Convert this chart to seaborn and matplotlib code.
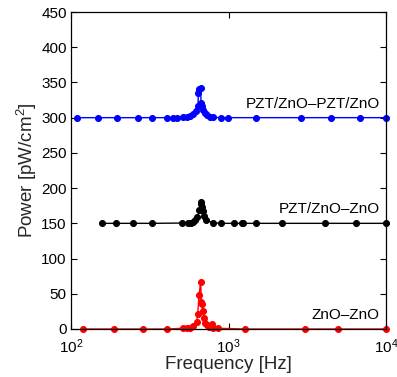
import matplotlib
matplotlib.use("Agg")
import matplotlib.pyplot as plt
import seaborn as sns
import pandas as pd
from matplotlib.ticker import LogLocator, LogFormatterSciNotation, NullLocator

# ---- data ----
freq_pzt_pzt = [108.7, 147.7, 196.8, 267.5, 325.4, 405.3, 442.2, 473.0, 512.0, 542.8,
                569.6, 597.7, 621.8, 640.2, 643.2, 652.6, 666.1, 669.0, 675.9, 691.8,
                709.3, 727.2, 762.9, 800.6, 892.2, 997.0, 1488, 2873, 4457, 6839, 10000]
power_pzt_pzt = [300, 300, 300, 300, 300, 300, 300, 300, 300.5, 301,
                 302, 305, 310, 316, 335, 340, 342, 321, 316, 311,
                 306, 304, 301.5, 300.5, 300, 300, 300, 300, 300, 300, 300]

freq_pzt_zno = [156.6, 193.1, 246.5, 325.4, 504.6, 555.6, 575.4, 597.7, 612.8, 633.8,
                652.6, 666.1, 672.0, 678.9, 686.0, 699.2, 719.9, 793.6, 892.2, 1088,
                1213, 1242, 1495, 2177, 4100, 6450, 10000]
power_pzt_zno = [150, 150, 150, 150, 150.4, 150.5, 151, 152, 154.5, 159,
                 168.5, 178, 180, 173, 167, 161, 154.5, 151, 150, 150,
                 150, 150, 150, 150, 150, 150, 150]

freq_zno_zno = [119, 187, 286, 407, 516.4, 542.8, 569.6, 597.7, 628.1, 637.4,
                649.7, 666.1, 672.0, 678.9, 686.0, 699.2, 712.4, 727.2, 755.2, 782.2,
                793.6, 861.4, 1282, 3060, 4956, 10000]
power_zno_zno = [0, 0, 0, 0, 1, 1, 2, 4, 10, 21,
                 48, 67, 39, 36, 25, 15, 9, 6, 3, 7,
                 1, 1, 0, 0, 0, 0]

series_names = ["PZT/ZnO\u2013PZT/ZnO", "PZT/ZnO\u2013ZnO", "ZnO\u2013ZnO"]
series_colors = ["#0000FF", "#000000", "#FF0000"]
label_y = [319.5, 171, 20]

y_ticks = [0, 50, 100, 150, 200, 250, 300, 350, 400, 450]

# ---- style ----
sns.set_theme(style="white")
plt.rcParams["font.family"] = ["Liberation Sans", "DejaVu Sans"]
plt.rcParams["mathtext.fontset"] = "custom"
plt.rcParams["mathtext.rm"] = "Liberation Sans"
plt.rcParams["mathtext.it"] = "Liberation Sans:italic"
plt.rcParams["mathtext.bf"] = "Liberation Sans:bold"

fig = plt.figure(figsize=(3.97, 3.77), dpi=100)
ax = fig.add_axes([71 / 397, 1 - 329 / 377, (386 - 71) / 397, (329 - 12) / 377])

frames = [
    (freq_pzt_pzt, power_pzt_pzt),
    (freq_pzt_zno, power_pzt_zno),
    (freq_zno_zno, power_zno_zno),
]
for (f, p), name, c in zip(frames, series_names, series_colors):
    df = pd.DataFrame({"Frequency": f, "Power": p})
    sns.lineplot(data=df, x="Frequency", y="Power", ax=ax, color=c, marker="o",
                 markersize=4.3, markeredgecolor=c, markerfacecolor=c,
                 linewidth=1.0, estimator=None, sort=True, clip_on=False)

ax.set_xscale("log")
ax.set_xlim(100, 10000)
ax.set_ylim(0, 450)
ax.set_yticks(y_ticks)
ax.xaxis.set_major_locator(LogLocator(base=10, numticks=5))
ax.xaxis.set_major_formatter(LogFormatterSciNotation())
ax.xaxis.set_minor_locator(NullLocator())

for (f, p), name, ly in zip(frames, series_names, label_y):
    ax.text(9150, ly, name, ha="right", va="center", fontsize=11, color="black")

ax.set_xlabel("Frequency [Hz]", fontsize=13.5, labelpad=0)
ax.set_ylabel("Power [pW/cm$^2$]", fontsize=13.5, labelpad=2)

ax.tick_params(axis="both", which="major", direction="in", length=4, width=0.8,
               labelsize=11, top=True, right=True, bottom=True, left=True,
               color="black", labelcolor="black")
ax.tick_params(axis="y", pad=3)
ax.tick_params(axis="x", pad=6)
for s in ax.spines.values():
    s.set_visible(True)
    s.set_color("black")
    s.set_linewidth(0.9)

fig.savefig("out.png", dpi=100)
